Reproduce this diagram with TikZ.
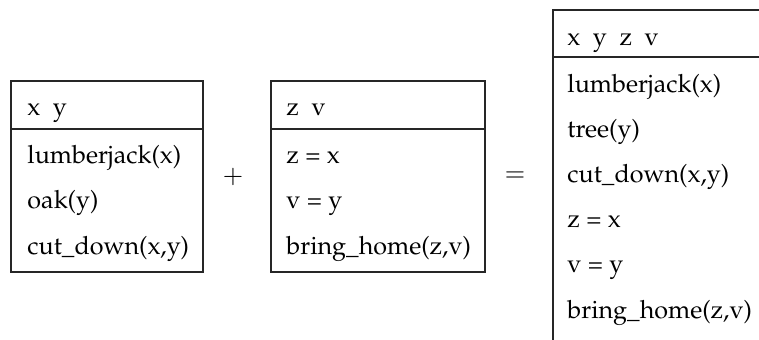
\documentclass[tikz,border=0pt]{standalone}
\usepackage[T1]{fontenc}
\usepackage{mathpazo}
\begin{document}
\begin{tikzpicture}[
  x=0.414pt, y=-0.414pt,
  font=\fontsize{10.4}{12.5}\selectfont,
  frame/.style={draw=black!85, line width=0.5pt},
  cond/.style={anchor=base west, inner sep=0pt},
  op/.style={inner sep=0pt},
]
\useasboundingbox (0,0) rectangle (759,340);
\clip (0,0) rectangle (759,340);

% ---- first box ----
\draw[frame] (11,81) rectangle (203,272);
\draw[frame] (11,129) -- (203,129);
\node[cond] (a-h) at (27,116) {x\ \ y};
\foreach \t [count=\i] in {lumberjack(x), oak(y), {cut\_down(x,y)}}
  \node[cond] (a-\i) at (27,{118+45.5*\i}) {\t};

% ---- plus ----
\node[op] (plus) at (233,177) {$+$};

% ---- second box ----
\draw[frame] (271,81) rectangle (485,272);
\draw[frame] (271,129) -- (485,129);
\node[cond] (b-h) at (286,116) {z\ \ v};
\foreach \t [count=\i] in {z = x, v = y, {bring\_home(z,v)}}
  \node[cond] (b-\i) at (286,{118+45.5*\i}) {\t};

% ---- equals ----
\node[op] (eq) at (515,177) {$=$};

% ---- merged box ----
\draw[frame] (553,10) rectangle (790,350);
\draw[frame] (553,57) -- (790,57);
\node[cond] (c-h) at (567,46) {x\ \ y\ \ z\ \ v};
\foreach \t [count=\i] in {lumberjack(x), tree(y), {cut\_down(x,y)}, z = x, v = y, {bring\_home(z,v)}}
  \node[cond] (c-\i) at (567,{47+45.2*\i}) {\t};
\end{tikzpicture}
\end{document}
